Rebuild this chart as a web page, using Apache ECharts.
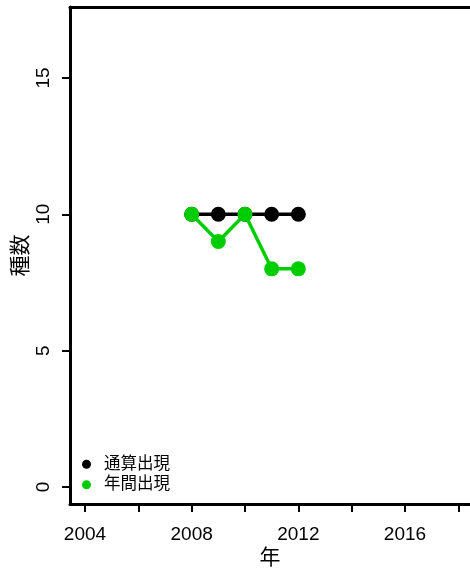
<!DOCTYPE html>
<html><head><meta charset="utf-8">
<script src="https://cdn.jsdelivr.net/npm/echarts@6/dist/echarts.min.js"></script>
<style>html,body{margin:0;padding:0;background:#fff}#c{width:470px;height:569px}</style>
</head><body><div id="c"></div>
<script>
const years = [2008, 2009, 2010, 2011, 2012];
const cumulative = [10, 10, 10, 10, 10];
const annual = [10, 9, 10, 8, 8];
const xTicks = [2004, 2006, 2008, 2010, 2012, 2014, 2016, 2018];
const xLabels = [2004, 2008, 2012, 2016];
const yTicks = [0, 5, 10, 15];
const seriesNames = ['通算出現', '年間出現'];

const font = '"Liberation Sans", Arial, "Noto Sans CJK JP", sans-serif';
const xMin = 2003.4375, xMax = 2018.4375;
const chart = echarts.init(document.getElementById('c'), null, {renderer: 'canvas'});
chart.setOption({
  animation: false,
  backgroundColor: '#fff',
  grid: {left: 70, right: 0, top: 7, bottom: 65, show: false, containLabel: false, outerBoundsMode: 'none'},
  xAxis: [{
    type: 'value', min: xMin, max: xMax,
    name: '年', nameLocation: 'middle', nameGap: 44, nameMoveOverlap: false,
    nameTextStyle: {color: '#000', fontSize: 21, fontFamily: font},
    axisLine: {show: true, onZero: false, lineStyle: {color: '#000', width: 3}},
    splitLine: {show: false},
    axisTick: {show: true, length: 8, lineStyle: {color: '#000', width: 2}, customValues: xTicks},
    axisLabel: {show: true, margin: 21, color: '#000', fontSize: 19, fontFamily: font, customValues: xLabels,
      formatter: v => String(v)}
  }, {
    type: 'value', min: xMin, max: xMax, position: 'top',
    axisLine: {show: true, onZero: false, lineStyle: {color: '#000', width: 3}},
    splitLine: {show: false}, axisTick: {show: false}, axisLabel: {show: false}
  }],
  yAxis: {
    type: 'value', min: -0.623, max: 17.6,
    name: '種数', nameLocation: 'middle', nameGap: 38, nameMoveOverlap: false,
    nameTextStyle: {color: '#000', fontSize: 21, fontFamily: font},
    axisLine: {show: true, onZero: false, lineStyle: {color: '#000', width: 3}},
    splitLine: {show: false},
    axisTick: {show: true, length: 8, lineStyle: {color: '#000', width: 2}, customValues: yTicks},
    axisLabel: {show: true, rotate: 90, margin: 17, color: '#000', fontSize: 19, fontFamily: font, customValues: yTicks,
      formatter: v => String(v)}
  },
  legend: {
    orient: 'vertical', left: 77, top: 451, itemGap: 4,
    itemWidth: 9, itemHeight: 9, icon: 'circle',
    textStyle: {color: '#000', fontSize: 16.5, fontFamily: font, padding: [0, 0, 0, 8]},
    data: seriesNames
  },
  series: [
    {name: seriesNames[0], type: 'line', data: years.map((y, i) => [y, cumulative[i]]),
     color: '#000', symbol: 'circle', symbolSize: 15, lineStyle: {width: 3.5, color: '#000'},
     itemStyle: {color: '#000'}, z: 2},
    {name: seriesNames[1], type: 'line', data: years.map((y, i) => [y, annual[i]]),
     color: '#00CD00', symbol: 'circle', symbolSize: 15, lineStyle: {width: 3.5, color: '#00CD00'},
     itemStyle: {color: '#00CD00'}, z: 3}
  ]
});
</script></body></html>
